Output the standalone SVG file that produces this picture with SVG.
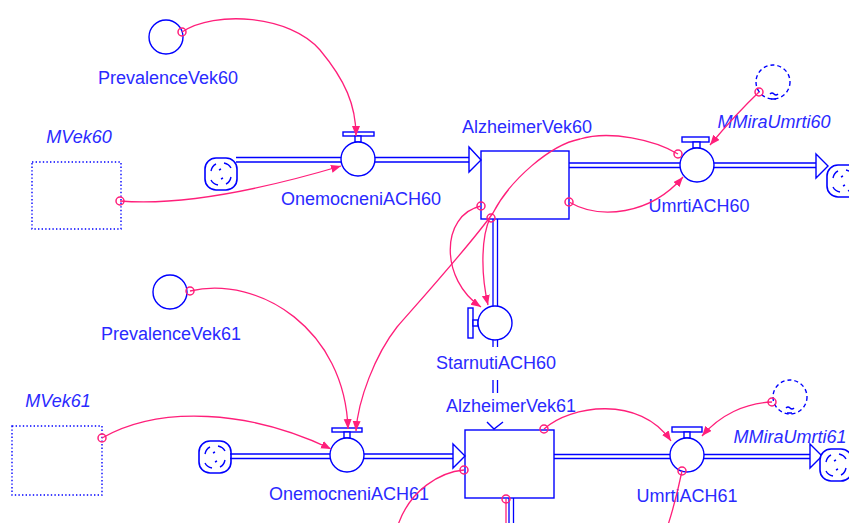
<svg xmlns="http://www.w3.org/2000/svg" xmlns:xlink="http://www.w3.org/1999/xlink" width="849" height="523" viewBox="0 0 849 523">
<style>
.lbl{font-family:"Liberation Sans",Arial,sans-serif;font-size:18px;fill:#2a2aff;text-anchor:middle}
.it{font-style:italic}
.ln{fill:none;stroke:#0000ff;stroke-width:1.4}
.pipe{fill:none;stroke:#0000ff;stroke-width:1.3}
.wf{fill:#fff;stroke:#0000ff;stroke-width:1.4}
.ghost{fill:none;stroke:#0000ff;stroke-width:1.4;stroke-dasharray:4 3}
.dot{fill:none;stroke:#0000ff;stroke-width:1.4;stroke-dasharray:1.4 2.2}
.c{fill:none;stroke:#ff1f7a;stroke-width:1.3}
.o{fill:none;stroke:#ff1f7a;stroke-width:1.5}
</style>
<defs>
<marker id="ah" markerWidth="11" markerHeight="9" refX="10" refY="4" orient="auto" markerUnits="userSpaceOnUse">
<path d="M0,0 L10,4 L0,8 z" fill="#ff1f7a"/>
</marker>
<g id="cloud">
<rect x="-16" y="-16" width="32" height="32" rx="11" fill="#fff" stroke="#0000ff" stroke-width="1.6"/>
<path d="M-10,-3 q1,-5 5,-7 M3,-11 q5,1 7,5 M10,3 q-1,5 -5,7 M-3,11 q-5,-1 -7,-5 M-2,-4 l2,-1 M2,4 l-2,1" fill="none" stroke="#0000ff" stroke-width="1.4"/>
</g>
</defs>
<rect width="849" height="523" fill="#fff"/>

<g id="cloud60in"><use xlink:href="#cloud" href="#cloud" x="221" y="174"/></g>
<g id="cloud61in"><use xlink:href="#cloud" href="#cloud" x="215" y="457"/></g>

<g id="OnemocneniACH60">
<path class="pipe" d="M236,157.5 H469 M236,162 H469"/>
<polygon class="wf" points="469,147 481,160 469,172"/>
<rect class="wf" x="343" y="132" width="31" height="4"/>
<rect class="wf" x="355" y="136" width="6" height="6"/>
<circle class="wf" cx="358" cy="159" r="17"/>
<text class="lbl" x="361" y="205">OnemocneniACH60</text>
</g>

<g id="UmrtiACH60">
<path class="pipe" d="M569,163 H816 M569,167.5 H816"/>
<polygon class="wf" points="816,154 828,166 816,178"/>
<rect class="wf" x="682" y="137" width="27" height="5"/>
<rect class="wf" x="693" y="142" width="7" height="6"/>
<circle class="wf" cx="697" cy="165" r="17"/>
<text class="lbl" x="699" y="212">UmrtiACH60</text>
</g>
<g id="cloud60out"><use xlink:href="#cloud" href="#cloud" x="843" y="181"/></g>

<g id="StarnutiACH60">
<path class="pipe" d="M493,219 V306 M497.5,219 V306 M493,340 V347 M497.5,340 V347 M493,380 V393 M497.5,380 V393"/>
<polyline class="ln" points="487,422 494,429 503,422"/>
<rect class="wf" x="468" y="308" width="5" height="30"/>
<rect class="wf" x="473" y="320" width="5" height="6"/>
<circle class="wf" cx="495" cy="323" r="17"/>
<text class="lbl" x="496" y="369">StarnutiACH60</text>
</g>

<g id="OnemocneniACH61">
<path class="pipe" d="M230,454 H453 M230,458.5 H453"/>
<polygon class="wf" points="453,444 465,456 453,468"/>
<rect class="wf" x="332" y="428" width="30" height="4"/>
<rect class="wf" x="344" y="432" width="6" height="6"/>
<circle class="wf" cx="347" cy="455" r="17"/>
<text class="lbl" x="349" y="500">OnemocneniACH61</text>
</g>

<g id="UmrtiACH61">
<path class="pipe" d="M554,454.5 H810 M554,458.5 H810"/>
<polygon class="wf" points="810,444 822,456 810,468"/>
<rect class="wf" x="672" y="427" width="30" height="5"/>
<rect class="wf" x="684" y="432" width="6" height="6"/>
<circle class="wf" cx="687" cy="455" r="17"/>
<text class="lbl" x="687" y="502">UmrtiACH61</text>
</g>
<g id="cloud61out"><use xlink:href="#cloud" href="#cloud" x="836" y="465"/></g>

<g id="AlzheimerVek60">
<rect class="ln" x="481" y="151" width="88" height="68"/>
<text class="lbl" x="527" y="133">AlzheimerVek60</text>
</g>

<g id="AlzheimerVek61">
<rect class="ln" x="465" y="430" width="89" height="68"/>
<path class="pipe" d="M509,498 V523 M513.5,498 V523"/>
<text class="lbl" x="511" y="412">AlzheimerVek61</text>
</g>

<g id="PrevalenceVek60">
<circle class="ln" cx="166" cy="37" r="17"/>
<text class="lbl" x="168" y="84">PrevalenceVek60</text>
</g>

<g id="MVek60">
<rect class="dot" x="32" y="162" width="89" height="67"/>
<text class="lbl it" x="79" y="143">MVek60</text>
</g>

<g id="MMiraUmrti60">
<circle class="ghost" cx="773" cy="82" r="17"/>
<path class="ln" d="M770,94 q2,-2 4,0 t4,0 M771,99 h5" stroke-width="1.2"/>
<text class="lbl it" x="774" y="128">MMiraUmrti60</text>
</g>

<g id="PrevalenceVek61">
<circle class="ln" cx="170" cy="292" r="17"/>
<text class="lbl" x="171" y="340">PrevalenceVek61</text>
</g>

<g id="MVek61">
<rect class="dot" x="12" y="426" width="90" height="69"/>
<text class="lbl it" x="58" y="407">MVek61</text>
</g>

<g id="MMiraUmrti61">
<circle class="ghost" cx="790" cy="397" r="17"/>
<path class="ln" d="M786,408 q2,-2 4,0 t4,0 M787,413 h5" stroke-width="1.2"/>
<text class="lbl it" x="790" y="443">MMiraUmrti61</text>
</g>

<g id="connectors">
<path class="c" marker-end="url(#ah)" d="M182,32 C215,10 290,15 320,50 C345,80 356,105 356,136"/>
<path class="c" marker-end="url(#ah)" d="M120,201 C180,206 260,190 341,166"/>
<path class="c" marker-end="url(#ah)" d="M481,206 C440,215 440,280 481,307"/>
<path class="c" marker-end="url(#ah)" d="M490,218 C482,235 480,270 488,305"/>
<path class="c" marker-end="url(#ah)" d="M678,154 C655,140 610,130 580,139 C550,145 510,180 493,213 C470,245 425,295 397,327 C375,355 358,400 356,431"/>
<path class="c" marker-end="url(#ah)" d="M569,202 C600,220 650,215 683,177"/>
<path class="c" marker-end="url(#ah)" d="M759,92 Q735,115 710,145"/>
<path class="c" marker-end="url(#ah)" d="M544,429 C570,405 640,395 671,441"/>
<path class="c" marker-end="url(#ah)" d="M772,402 C745,403 720,415 702,436"/>
<path class="c" marker-end="url(#ah)" d="M190,291 C260,275 345,330 348,429"/>
<path class="c" marker-end="url(#ah)" d="M102,438 C160,405 250,410 331,449"/>
<path class="c" d="M464,470 C440,472 410,490 398,525"/>
<path class="c" d="M506,499 L506,525"/>
<path class="c" d="M682,471 Q676,500 668,525"/>
<circle class="o" cx="182" cy="32" r="4"/>
<circle class="o" cx="120" cy="201" r="4"/>
<circle class="o" cx="481" cy="206" r="4"/>
<circle class="o" cx="491" cy="218" r="4"/>
<circle class="o" cx="678" cy="154" r="4"/>
<circle class="o" cx="569" cy="202" r="4"/>
<circle class="o" cx="759" cy="92" r="4"/>
<circle class="o" cx="544" cy="429" r="4"/>
<circle class="o" cx="772" cy="402" r="4"/>
<circle class="o" cx="190" cy="291" r="4"/>
<circle class="o" cx="102" cy="438" r="4"/>
<circle class="o" cx="464" cy="470" r="4"/>
<circle class="o" cx="506" cy="499" r="4"/>
<circle class="o" cx="682" cy="471" r="4"/>
</g>
</svg>
